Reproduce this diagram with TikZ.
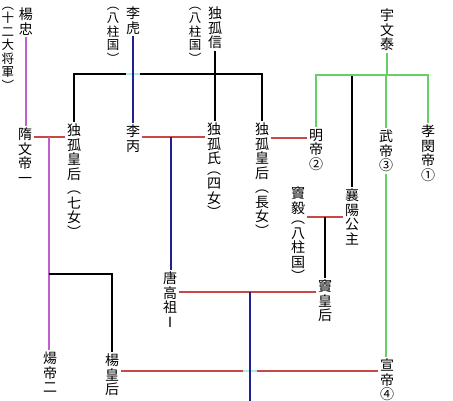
\documentclass[tikz,border=0pt]{standalone}
\usepackage{fontspec}
\newfontfamily\cjk{Noto Sans CJK JP}
\definecolor{kred}{HTML}{C84848}
\definecolor{kmag}{HTML}{C060D0}
\definecolor{kblue}{HTML}{202090}
\definecolor{kgreen}{HTML}{66D066}
\definecolor{kcyan}{HTML}{A8EEEE}
\tikzset{
  vt/.style={font=\cjk\fontsize{14}{14.5}\selectfont, align=center, inner sep=0pt, outer sep=2pt, anchor=north},
  note/.style={font=\cjk\fontsize{12.5}{13.5}\selectfont},
  kin/.style={draw=black, line width=1.1pt},
  rd/.style={draw=kred, line width=1.1pt},
  mag/.style={draw=kmag, line width=1.1pt},
  bl/.style={draw=kblue, line width=1.1pt},
  gr/.style={draw=kgreen, line width=1.3pt},
  cy/.style={draw=kcyan, line width=1.6pt}
}
\begin{document}
\begin{tikzpicture}[x=1pt,y=-1pt]
\useasboundingbox[fill=white] (0,0) rectangle (453,400);
% generation 0
\node[vt] (yangzhong) at (26,6) {楊\\忠};
\node[vt,note] (yznote) at (8,5) {︵\\十\\二\\大\\将\\軍\\︶};
\node[vt] (lihu) at (133,5) {李\\虎};
\node[vt,note] (lihunote) at (113,5) {︵\\八\\柱\\国\\︶};
\node[vt] (dugu) at (215,5) {独\\孤\\信};
\node[vt,note] (dugunote) at (195,5) {︵\\八\\柱\\国\\︶};
\node[vt] (yuwentai) at (387,7) {宇\\文\\泰};
% generation 1
\node[vt] (suiwen) at (25,126) {隋\\文\\帝\\一};
\node[vt] (dugu7) at (74,122) {独\\孤\\皇\\后\\︵\\七\\女\\︶};
\node[vt] (libing) at (133,123) {李\\丙};
\node[vt] (dugu4) at (214,121) {独\\孤\\氏\\[-4pt]︵\\四\\女\\︶};
\node[vt] (dugu1) at (262,121) {独\\孤\\皇\\后\\︵\\長\\女\\︶};
\node[vt] (mingdi) at (316,127) {明\\帝\\②};
\node[vt] (wudi) at (386,128) {武\\帝\\③};
\node[vt] (xiaomin) at (428,123) {孝\\閔\\帝\\①};
\node[vt] (xiangyang) at (352,187) {襄\\陽\\公\\主};
\node[vt] (douyi) at (298,185) {竇\\毅\\[-4pt]︵\\八\\柱\\国\\︶};
% generation 2
\node[vt] (douhou) at (325,278) {竇\\皇\\后};
\node[vt] (gaozu) at (170,270) {唐\\高\\祖\\Ⅰ};
\node[vt] (yangdi) at (50,350) {煬\\帝\\二};
\node[vt] (yanghou) at (112,352) {楊\\皇\\后};
\node[vt] (xuandi) at (387,357) {宣\\帝\\④};
% coordinates
\coordinate (fam) at (215,74);
\coordinate (g) at (387,75);
\coordinate (m1) at (49,137);
\coordinate (m2) at (171,137);
\coordinate (m3) at (290,138);
\coordinate (m4) at (325,217);
\coordinate (m5) at (250,292);
\coordinate (m6) at (250,371);
\coordinate (br) at (49,274);
\coordinate (bot) at (250,404);
% Yang line
\draw[mag] (yangzhong.south) -- (yangzhong.south |- suiwen.north);
\draw[rd] (suiwen.east |- m1) -- (dugu7.west |- m1);
\draw[mag] (m1) -- (m1 |- yangdi.north);
\draw[kin] (br) -- (br -| yanghou.north) -- (yanghou.north);
% Dugu family
\draw[kin] (dugu.south) -- (dugu.south |- dugu4.north);
\draw[kin] (dugu7.north) -- (dugu7.north |- fam) -- (dugu1.north |- fam) -- (dugu1.north);
\draw[cy] ([xshift=-7pt]lihu.south |- fam) -- ([xshift=7pt]lihu.south |- fam);
\draw[bl] (lihu.south) -- (lihu.south |- libing.north);
\draw[rd] (libing.east |- m2) -- (dugu4.west |- m2);
\draw[bl] (m2) -- (m2 |- gaozu.north);
\draw[rd] (dugu1.east |- m3) -- (mingdi.west |- m3);
% Yuwen family
\draw[kin] (xiangyang.north |- g) -- (xiangyang.north);
\draw[gr] (yuwentai.south) -- (yuwentai.south |- g);
\draw[gr] (mingdi.north) -- (mingdi.north |- g) -- (xiaomin.north |- g) -- (xiaomin.north);
\draw[gr] (wudi.north |- g) -- (wudi.north);
\draw[gr] (wudi.south) -- (wudi.south |- xuandi.north);
\draw[rd] (douyi.east |- m4) -- (xiangyang.west |- m4);
\draw[kin] (m4) -- (m4 |- douhou.north);
% Tang
\draw[rd] (gaozu.east |- m5) -- (douhou.west |- m5);
\draw[rd] (yanghou.east |- m6) -- (xuandi.west |- m6);
\draw[cy] ([xshift=-7pt]m6) -- ([xshift=7pt]m6);
\draw[bl] (m5) -- (bot);
\end{tikzpicture}
\end{document}
